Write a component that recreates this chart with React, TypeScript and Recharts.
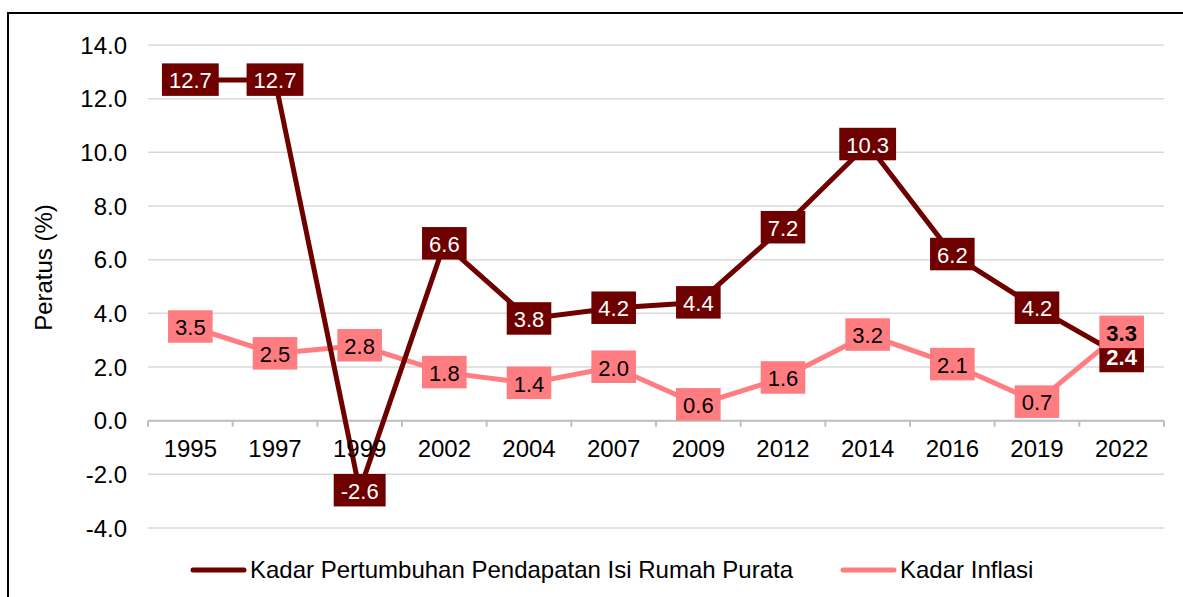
import { LineChart, Line, XAxis, YAxis, CartesianGrid, ReferenceLine, Legend } from "recharts";

const years = ["1995", "1997", "1999", "2002", "2004", "2007", "2009", "2012", "2014", "2016", "2019", "2022"];
const incomeGrowth = [12.7, 12.7, -2.6, 6.6, 3.8, 4.2, 4.4, 7.2, 10.3, 6.2, 4.2, 2.4];
const inflation = [3.5, 2.5, 2.8, 1.8, 1.4, 2.0, 0.6, 1.6, 3.2, 2.1, 0.7, 3.3];
const yTicks = [-4, -2, 0, 2, 4, 6, 8, 10, 12, 14];

const growthName = "Kadar Pertumbuhan Pendapatan Isi Rumah Purata";
const inflationName = "Kadar Inflasi";

const data = years.map((year, i) => ({ year, growth: incomeGrowth[i], inflation: inflation[i] }));

const DARK = "#6E0000";
const PINK = "#FF7C80";
const FONT = '"Liberation Sans", Arial, sans-serif';

const CHART_W = 1180;
const CHART_H = 590;
const MARGIN = { top: 31, right: 25, left: 0, bottom: 46 };
const Y_AXIS_W = 139;
const X_AXIS_H = 30;
const plotW = CHART_W - MARGIN.right - MARGIN.left - Y_AXIS_W;
const plotH = CHART_H - MARGIN.top - MARGIN.bottom - X_AXIS_H;
const yMin = yTicks[0];
const yMax = yTicks[yTicks.length - 1];
const zeroY = MARGIN.top + (plotH * yMax) / (yMax - yMin);
const bandW = plotW / years.length;

const legendItems = [
  { name: growthName, color: DARK },
  { name: inflationName, color: PINK },
];

// rough Arial advance widths, em units
const textWidth = (s: string, size: number) =>
  s.split("").reduce((w, c) => w + (c === "." ? 0.278 : c === "-" ? 0.333 : 0.556), 0) * size;

const makeLabel = (fill: string, color: string) => (props: any) => {
  const { x, y, value, index } = props;
  if (x == null || y == null) return null;
  const text = Number(value).toFixed(1);
  const w = textWidth(text, 22) + 14;
  const bold = index === years.length - 1;
  return (
    <g>
      <rect x={x - w / 2} y={y - 16.5} width={w} height={32.5} fill={fill} />
      <text
        x={x}
        y={y + 8.5}
        textAnchor="middle"
        fontSize={22}
        fontFamily={FONT}
        fontWeight={bold ? "bold" : "normal"}
        fill={color}
      >
        {text}
      </text>
    </g>
  );
};

function YearTick(props: any) {
  const { x, payload, index } = props;
  const last = index === years.length - 1;
  return (
    <g>
      <line x1={x - bandW / 2} x2={x - bandW / 2} y1={zeroY} y2={zeroY + 6} stroke="#bfbfbf" strokeWidth={2} />
      {last && <line x1={x + bandW / 2} x2={x + bandW / 2} y1={zeroY} y2={zeroY + 6} stroke="#bfbfbf" strokeWidth={2} />}
      <text x={x} y={zeroY + 36} textAnchor="middle" fontSize={24} fontFamily={FONT} fill="#000">
        {payload.value}
      </text>
    </g>
  );
}

function AxisTitle(props: any) {
  const vb = props.viewBox || { x: 0, y: MARGIN.top, height: plotH };
  const cx = vb.x + 34;
  const cy = vb.y + vb.height / 2 - 19;
  return (
    <text
      x={cx}
      y={cy}
      transform={`rotate(-90, ${cx}, ${cy})`}
      textAnchor="middle"
      dominantBaseline="central"
      fontSize={24}
      fontFamily={FONT}
      fill="#000"
    >
      Peratus (%)
    </text>
  );
}

function LegendContent() {
  return (
    <div style={{ display: "flex", alignItems: "center", gap: 47, height: 28, fontFamily: FONT, fontSize: 24, color: "#000", whiteSpace: "nowrap" }}>
      {legendItems.map((item) => (
        <div key={item.name} style={{ display: "flex", alignItems: "center" }}>
          <svg width={57} height={10} style={{ marginRight: 3 }}>
            <line x1={3} x2={54} y1={5} y2={5} stroke={item.color} strokeWidth={5} strokeLinecap="round" />
          </svg>
          <span>{item.name}</span>
        </div>
      ))}
    </div>
  );
}

export default function App() {
  return (
    <div style={{ position: "fixed", left: 0, top: 0, width: 1183, height: 597, overflow: "hidden", background: "#fff" }}>
      <div style={{ position: "absolute", left: 7, top: 12, border: "2px solid #000", width: CHART_W, height: CHART_H }}>
        <LineChart width={CHART_W} height={CHART_H} data={data} margin={MARGIN} style={{ fontFamily: FONT }}>
          <CartesianGrid vertical={false} stroke="#d9d9d9" strokeWidth={1.5} />
          <XAxis
            dataKey="year"
            height={X_AXIS_H}
            axisLine={false}
            tickLine={false}
            interval={0}
            padding={{ left: bandW / 2, right: bandW / 2 }}
            tick={<YearTick />}
          />
          <YAxis
            width={Y_AXIS_W}
            domain={[yMin, yMax]}
            ticks={yTicks}
            interval={0}
            axisLine={false}
            tickLine={false}
            tickSize={6}
            tickMargin={15}
            tickFormatter={(v: number) => v.toFixed(1)}
            tick={{ fill: "#000", fontSize: 24, fontFamily: FONT }}
            label={<AxisTitle />}
          />
          <ReferenceLine y={0} stroke="#bfbfbf" strokeWidth={2} />
          <Legend
            verticalAlign="middle"
            align="center"
            layout="horizontal"
            wrapperStyle={{ top: 542, left: 181, width: "auto" }}
            content={() => <LegendContent />}
          />
          <Line
            type="linear"
            dataKey="inflation"
            name={inflationName}
            stroke={PINK}
            strokeWidth={5}
            dot={false}
            activeDot={false}
            isAnimationActive={false}
          />
          <Line
            type="linear"
            dataKey="growth"
            name={growthName}
            stroke={DARK}
            strokeWidth={5}
            dot={false}
            activeDot={false}
            isAnimationActive={false}
          />
          {/* label-only passes: dark boxes first, pink boxes on top */}
          <Line
            dataKey="growth"
            stroke="none"
            dot={false}
            activeDot={false}
            legendType="none"
            isAnimationActive={false}
            label={makeLabel(DARK, "#fff")}
          />
          <Line
            dataKey="inflation"
            stroke="none"
            dot={false}
            activeDot={false}
            legendType="none"
            isAnimationActive={false}
            label={makeLabel(PINK, "#000")}
          />
        </LineChart>
      </div>
    </div>
  );
}
